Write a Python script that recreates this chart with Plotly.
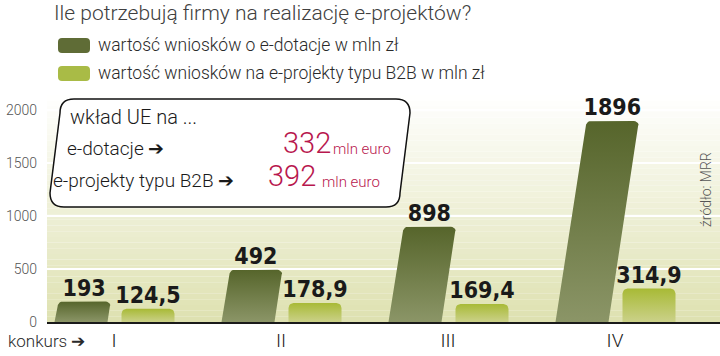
import math
import plotly.graph_objects as go

# ---------------- data ----------------
categories = ["I", "II", "III", "IV"]
dotacje = [193, 492, 898, 1896]            # wartość wniosków o e-dotacje w mln zł
b2b = [124.5, 178.9, 169.4, 314.9]         # wartość wniosków na e-projekty typu B2B w mln zł
dotacje_labels = ["193", "492", "898", "1896"]
b2b_labels = ["124,5", "178,9", "169,4", "314,9"]
y_ticks = [0, 500, 1000, 1500, 2000]
title_text = "Ile potrzebują firmy na realizację e-projektów?"
series_names = ["wartość wniosków o e-dotacje w mln zł",
                "wartość wniosków na e-projekty typu B2B w mln zł"]
ue_rows = [("e-dotacje \u2794", "332"), ("e-projekty typu B2B \u2794", "392")]

# ---------------- geometry / style ----------------
W, H = 720, 356
L, R, T, B = 47, 720, 95, 322          # plot area in pixels
PX_PER_X = 167.0
X0_PIX = 114.0
x_range = [(L - X0_PIX) / PX_PER_X, (R - X0_PIX) / PX_PER_X]
PX_PER_Y = 0.106
y_range = [0, (B - T) / PX_PER_Y]

BAR_W = 53 / PX_PER_X
DARK_OFF = -33 / PX_PER_X
LIGHT_OFF = 34 / PX_PER_X
SLANT = 0.016 / PX_PER_X                  # x shift per value unit for dark bars
RAD_X = 5 / PX_PER_X
RAD_Y = 5 / PX_PER_Y

LIGHT_FONT = "Roboto"
BOLD_FONT = "DejaVu Sans Condensed"


def px2x(px):
    return (px - L) / (R - L)


def py2y(py):
    return (B - py) / (B - T)


def bar_outline(xc, value, slant):
    """Polygon for a (possibly slanted) bar with rounded top corners."""
    hw = BAR_W / 2
    top_shift = value * slant
    ry = min(RAD_Y, value / 2)
    xs, ys = [xc - hw, xc + hw], [0, 0]
    xs.append(xc + hw + slant * (value - ry)); ys.append(value - ry)
    cx, cy = xc + hw + top_shift - RAD_X, value - ry
    for k in range(1, 6):
        a = (k / 5) * (math.pi / 2)
        xs.append(cx + RAD_X * math.cos(a)); ys.append(cy + ry * math.sin(a))
    cx = xc - hw + top_shift + RAD_X
    for k in range(0, 6):
        a = math.pi / 2 + (k / 5) * (math.pi / 2)
        xs.append(cx + RAD_X * math.cos(a)); ys.append(cy + ry * math.sin(a))
    xs.append(xc - hw); ys.append(0)
    return xs, ys


fig = go.Figure()

dark_scale = [[0, "#8b9567"], [1, "#56652b"]]
light_scale = [[0, "#cbd189"], [1, "#a8ba36"]]

for i, (vd, vb) in enumerate(zip(dotacje, b2b)):
    xs, ys = bar_outline(i + DARK_OFF, vd, SLANT)
    fig.add_trace(go.Scatter(
        x=xs, y=ys, mode="lines", fill="toself", line=dict(width=0),
        fillgradient=dict(type="vertical", colorscale=dark_scale, start=0, stop=vd),
        name=series_names[0], showlegend=False, hoverinfo="skip"))
    xs, ys = bar_outline(i + LIGHT_OFF, vb, 0)
    fig.add_trace(go.Scatter(
        x=xs, y=ys, mode="lines", fill="toself", line=dict(width=0),
        fillgradient=dict(type="vertical", colorscale=light_scale, start=0, stop=vb),
        name=series_names[1], showlegend=False, hoverinfo="skip"))

# value labels
fig.add_trace(go.Scatter(
    x=[i + DARK_OFF + v * SLANT for i, v in enumerate(dotacje)], y=dotacje,
    mode="text", text=dotacje_labels, textposition="top center",
    textfont=dict(family=BOLD_FONT, size=23, color="#1a1a1a", weight="bold"),
    showlegend=False, hoverinfo="skip", cliponaxis=False))
fig.add_trace(go.Scatter(
    x=[i + LIGHT_OFF for i in range(len(b2b))], y=b2b,
    mode="text", text=b2b_labels, textposition="top center",
    textfont=dict(family=BOLD_FONT, size=23, color="#1a1a1a", weight="bold"),
    showlegend=False, hoverinfo="skip", cliponaxis=False))

shapes = []
# background gradient bands
top_c = (255, 255, 255)
bot_c = (222, 225, 176)
NB = 40
for k in range(NB):
    t = (k + 0.5) / NB
    c = tuple(int(round(top_c[j] + (bot_c[j] - top_c[j]) * (1 - t))) for j in range(3))
    shapes.append(dict(type="rect", xref="paper", yref="paper",
                       x0=0, x1=1, y0=k / NB, y1=(k + 1) / NB,
                       fillcolor="rgb(%d,%d,%d)" % c, line=dict(width=0), layer="below"))


def rounded_rect(x0p, y0p, x1p, y1p, r=4, slant=0):
    def P(px, py):
        return "%.5f,%.5f" % (px2x(px), py2y(py))
    return ("M " + P(x0p + r, y0p) + " L " + P(x1p - r, y0p) +
            " Q " + P(x1p, y0p) + " " + P(x1p, y0p + r) +
            " L " + P(x1p - slant, y1p - r) +
            " Q " + P(x1p - slant, y1p) + " " + P(x1p - slant - r, y1p) +
            " L " + P(x0p - slant + r, y1p) +
            " Q " + P(x0p - slant, y1p) + " " + P(x0p - slant, y1p - r) +
            " L " + P(x0p, y0p + r) +
            " Q " + P(x0p, y0p) + " " + P(x0p + r, y0p) + " Z")


# legend swatches
shapes.append(dict(type="path", xref="paper", yref="paper",
                   path=rounded_rect(58, 38, 90, 53, r=4),
                   fillcolor="#5f6c36", line=dict(width=0)))
shapes.append(dict(type="path", xref="paper", yref="paper",
                   path=rounded_rect(58, 66, 90, 81, r=4),
                   fillcolor="#a9bb46", line=dict(width=0)))
# info box (slanted rounded)
shapes.append(dict(type="path", xref="paper", yref="paper",
                   path=rounded_rect(60, 99, 410, 207, r=14, slant=10),
                   fillcolor="white", line=dict(color="#111111", width=1.5)))

annotations = []


def ann(text, px, py, size, color="#333333", family=LIGHT_FONT, xanchor="left",
        yanchor="middle", textangle=0, weight=300):
    annotations.append(dict(text=text, x=px2x(px), y=py2y(py), xref="paper", yref="paper",
                            showarrow=False, xanchor=xanchor, yanchor=yanchor,
                            textangle=textangle,
                            font=dict(family=family, size=size, color=color, weight=weight)))


ann(title_text, 52, 13, 21, color="#404040")
ann(series_names[0], 96, 45, 17.5, color="#2a2a2a")
ann(series_names[1], 96, 73, 17.5, color="#2a2a2a")
ann("wkład UE na ...", 68, 117, 20, color="#1a1a1a")
ann(ue_rows[0][0], 65, 148, 19, color="#1a1a1a")
ann(ue_rows[1][0], 51, 180, 19, color="#1a1a1a")
ann(ue_rows[0][1], 281, 143, 29, color="#b8174e")
ann(ue_rows[1][1], 266, 176, 29, color="#b8174e")
ann("mln euro", 331, 149, 15, color="#b8174e")
ann("mln euro", 320, 182, 15, color="#b8174e")
ann("konkurs \u2794", 6, 341, 17, color="#2a2a2a")
ann("źródło: MRR", 706, 190, 14, color="#555555", xanchor="center", textangle=-90)

fig.update_layout(
    width=W, height=H,
    margin=dict(l=L, r=W - R, t=T, b=H - B, pad=0),
    paper_bgcolor="white", plot_bgcolor="rgba(0,0,0,0)",
    showlegend=False,
    shapes=shapes, annotations=annotations,
    xaxis=dict(range=x_range, tickmode="array", tickvals=list(range(len(categories))),
               ticktext=categories, showgrid=False, zeroline=False,
               showline=True, linecolor="#1a1a1a", linewidth=2,
               ticks="", tickfont=dict(family=LIGHT_FONT, size=19, color="#1a1a1a", weight=300),
               fixedrange=True, layer="above traces"),
    yaxis=dict(range=y_range, tickmode="array", tickvals=y_ticks,
               showgrid=True, gridcolor="white", gridwidth=1.5, zeroline=False,
               showline=False, ticks="", ticklabelstandoff=9,
               tickfont=dict(family=LIGHT_FONT, size=14, color="#555555", weight=300),
               fixedrange=True, layer="above traces"),
)

fig.write_html("out.html", config={"displayModeBar": False},
               post_script="document.body.style.margin='0';")
